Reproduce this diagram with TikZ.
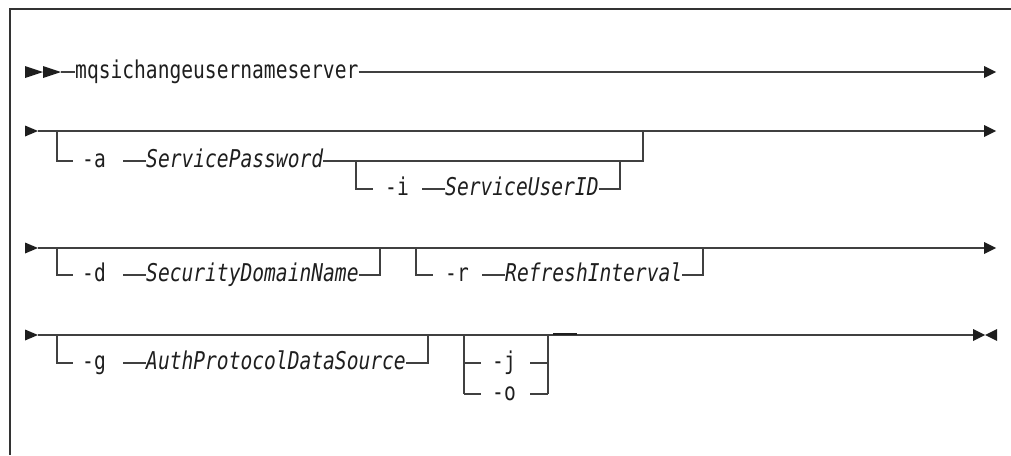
\documentclass[tikz,border=0pt]{standalone}
\usepackage{fontspec}
\newfontfamily\rrfont[FakeStretch=0.80,ItalicFont={DejaVu Sans Mono Oblique}]{DejaVu Sans Mono}
\definecolor{railgray}{HTML}{404040}
\definecolor{framegray}{HTML}{333333}
\definecolor{inkc}{HTML}{1E1E1E}
\begin{document}
\begin{tikzpicture}[x=1pt,y=-1pt]
\tikzset{
  rail/.style={draw=railgray, line width=1.1pt},
  frameline/.style={draw=framegray, line width=1.5pt},
  kw/.style={inner sep=0pt, anchor=west, text height=13.4pt, text depth=0pt, text=inkc, font=\rrfont\fontsize{24.5}{28}\selectfont},
  var/.style={kw, font=\rrfont\fontsize{24.5}{28}\selectfont\itshape},
  tri/.style={fill=inkc, draw=none},
}
\useasboundingbox (0,0) rectangle (1011,455);
% frame
\coordinate (ftl) at (10,9);
\draw[frameline] (1011,9) -- (ftl) -- (10,455);

% ---------- row 1 ----------
\fill[tri] (25,66) -- (43,72) -- (25,78) -- cycle;
\fill[tri] (43,66) -- (61,72) -- (43,78) -- cycle;
\coordinate (r1s) at (61,72);
\coordinate (r1e) at (984,72);
\node[kw] (cmd) at (75,72) {mqsichangeusernameserver};
\draw[rail] (r1s) -- (cmd.west);
\draw[rail] (cmd.east) -- (r1e);
\fill[tri] (984,66) -- (996,72) -- (984,78) -- cycle;

% ---------- row 2 ----------
\fill[tri] (25,125.5) -- (38,131) -- (25,136.5) -- cycle;
\coordinate (r2s) at (38,131);
\coordinate (r2e) at (984,131);
\draw[rail] (r2s) -- (r2e);
\fill[tri] (984,125) -- (996,131) -- (984,137) -- cycle;
\node[kw] (opta) at (82,161) {-a};
\node[var] (spw) at (146,161) {ServicePassword};
\draw[rail] (57,131) |- (73,161);
\draw[rail] (123,161) -- (spw.west);
\coordinate (aj) at (643,161);
\draw[rail] (spw.east) -- (aj) -- (643,131);
\node[kw] (opti) at (385,189) {-i};
\node[var] (uid) at (445,189) {ServiceUserID};
\draw[rail] (356,161) |- (373,189);
\draw[rail] (422,189) -- (uid.west);
\draw[rail] (uid.east) -- (620,189) -- (620,161);

% ---------- row 3 ----------
\fill[tri] (25,242.5) -- (38,248) -- (25,253.5) -- cycle;
\coordinate (r3s) at (38,248);
\coordinate (r3e) at (984,248);
\draw[rail] (r3s) -- (r3e);
\fill[tri] (984,242) -- (996,248) -- (984,254) -- cycle;
\node[kw] (optd) at (82,275) {-d};
\node[var] (sdn) at (146,275) {SecurityDomainName};
\draw[rail] (57,248) |- (73,275);
\draw[rail] (123,275) -- (sdn.west);
\draw[rail] (sdn.east) -- (380,275) -- (380,248);
\node[kw] (optr) at (445,275) {-r};
\node[var] (rint) at (505,275) {RefreshInterval};
\draw[rail] (416,248) |- (433,275);
\draw[rail] (482,275) -- (rint.west);
\draw[rail] (rint.east) -- (703,275) -- (703,248);

% ---------- row 4 ----------
\fill[tri] (25,329.5) -- (38,335) -- (25,340.5) -- cycle;
\coordinate (r4s) at (38,335);
\coordinate (r4e) at (973,335);
\draw[rail] (r4s) -- (r4e);
\fill[tri] (973,329) -- (985,335) -- (973,341) -- cycle;
\fill[tri] (997,329) -- (985,335) -- (997,341) -- cycle;
\node[kw] (optg) at (82,363) {-g};
\node[var] (apds) at (146,363) {AuthProtocolDataSource};
\draw[rail] (57,335) |- (73,363);
\draw[rail] (123,363) -- (apds.west);
\draw[rail] (apds.east) -- (428,363) -- (428,335);
\node[kw] (optj) at (492,363) {-j};
\node[kw] (opto) at (492,394) {-o};
\draw[rail] (464,335) -- (464,394);
\draw[rail] (548,335) -- (548,394);
\draw[rail] (464,363) -- (481,363);
\draw[rail] (530,363) -- (548,363);
\draw[rail] (464,394) -- (481,394);
\draw[rail] (530,394) -- (548,394);
\draw[draw=inkc, line width=1.8pt] (553,334.3) -- (577,334.3);
\end{tikzpicture}
\end{document}
